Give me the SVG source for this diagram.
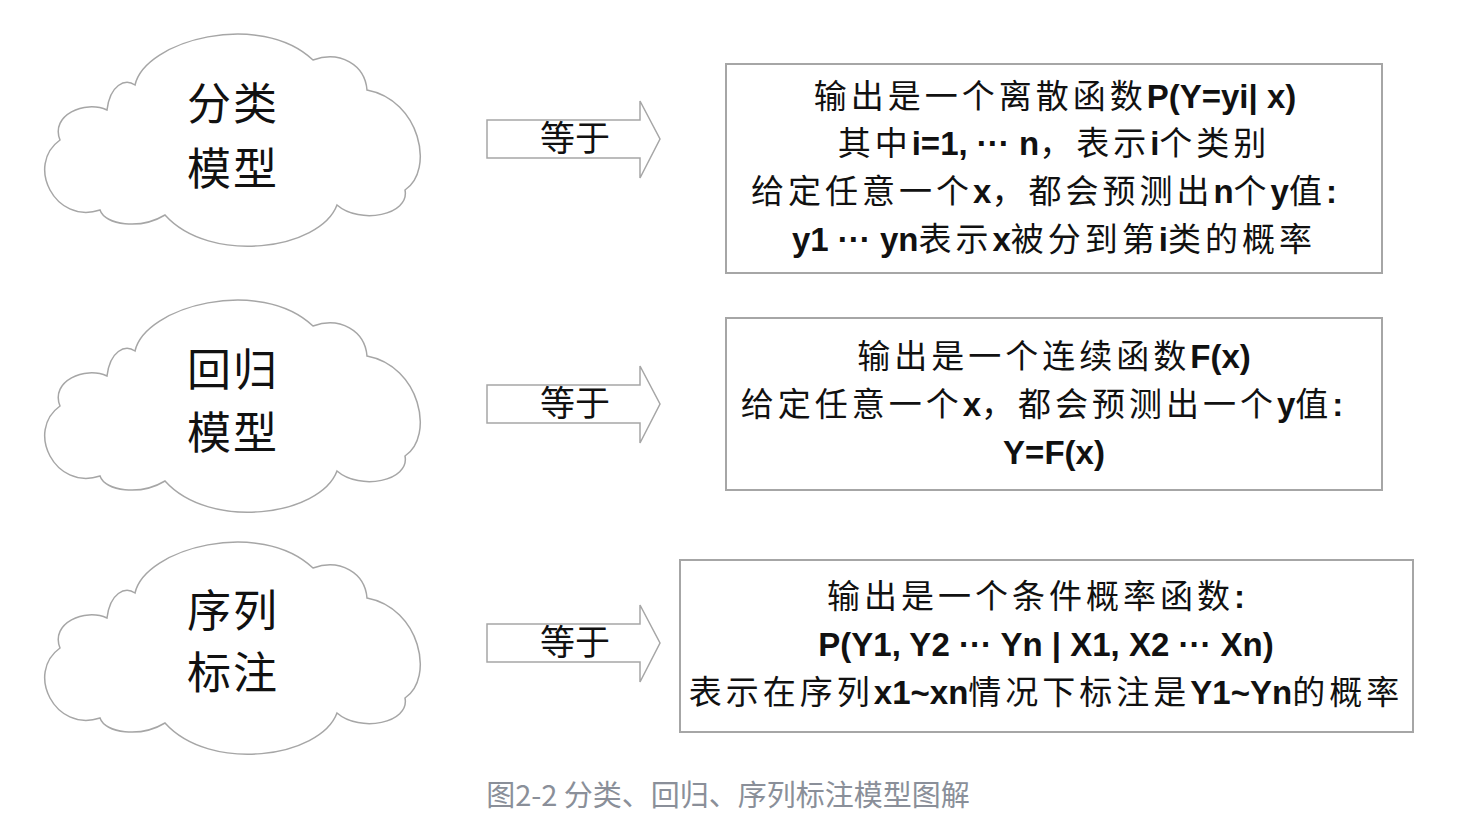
<svg xmlns="http://www.w3.org/2000/svg" width="1478" height="838" viewBox="0 0 1478 838">
<style>
.cloud{fill:#fff;stroke:#a6a6a6;stroke-width:1.5}
.arrow{fill:#fff;stroke:#a6a6a6;stroke-width:1.5}
.box{fill:#fff;stroke:#a6a6a6;stroke-width:2}
.big{font-family:"Noto Sans CJK SC","Noto Sans CJK JP",sans-serif;font-size:44px;letter-spacing:2px;fill:#111;text-anchor:middle}
.eq{font-family:"Noto Sans CJK SC",sans-serif;font-size:35px;fill:#111;text-anchor:middle}
.t{font-family:"Noto Sans CJK SC",sans-serif;font-size:33px;letter-spacing:4px;fill:#111;text-anchor:middle}
.b{font-family:"Liberation Sans","Noto Sans CJK SC",sans-serif;font-weight:bold;font-size:33px;letter-spacing:0}
.cap{font-family:"Noto Sans CJK SC",sans-serif;font-size:29px;fill:#8a8f99;text-anchor:middle}
</style>
<defs>
<path id="cloudShape" d="M107 110 C110 85 125 78 135 85 C145 40 260 10 313 60 C340 50 365 65 367 90 C420 100 435 170 405 190 C410 215 360 225 337 205 C320 250 210 265 165 215 C140 230 105 225 100 210 C55 225 25 165 60 140 C50 115 85 100 107 110 Z"/>
<path id="arrowShape" d="M487 120 H640 V101 L660 139 L640 178 V158 H487 Z"/>
</defs>
<g id="connectors">
<use href="#arrowShape" class="arrow"/>
<text class="eq" x="575" y="151">等于</text>
<use href="#arrowShape" class="arrow" transform="translate(0,265)"/>
<text class="eq" x="575" y="416">等于</text>
<use href="#arrowShape" class="arrow" transform="translate(0,504)"/>
<text class="eq" x="575" y="655">等于</text>
</g>
<g id="node-cls">
<use href="#cloudShape" class="cloud"/>
<text class="big" x="233" y="120">分类</text>
<text class="big" x="233" y="185">模型</text>
</g>
<g id="node-reg">
<use href="#cloudShape" class="cloud" transform="translate(0,266)"/>
<text class="big" x="233" y="386">回归</text>
<text class="big" x="233" y="449">模型</text>
</g>
<g id="node-seq">
<use href="#cloudShape" class="cloud" transform="translate(0,508)"/>
<text class="big" x="233" y="627">序列</text>
<text class="big" x="233" y="689">标注</text>
</g>
<g id="box-cls">
<rect class="box" x="726" y="64" width="656" height="209"/>
<text class="t" x="1055" y="108">输出是一个离散函数<tspan class="b">P(Y=yi| x)</tspan></text>
<text class="t" x="1054" y="155">其中<tspan class="b">i=1, ··· n</tspan>，表示<tspan class="b">i</tspan>个类别</text>
<text class="t" x="1044" y="203">给定任意一个<tspan class="b">x</tspan>，都会预测出<tspan class="b">n</tspan>个<tspan class="b">y</tspan>值<tspan class="b">:</tspan></text>
<text class="t" x="1054" y="251"><tspan class="b">y1 ··· yn</tspan>表示<tspan class="b">x</tspan>被分到第<tspan class="b">i</tspan>类的概率</text>
</g>
<g id="box-reg">
<rect class="box" x="726" y="318" width="656" height="172"/>
<text class="t" x="1054" y="368">输出是一个连续函数<tspan class="b">F(x)</tspan></text>
<text class="t" x="1042" y="416">给定任意一个<tspan class="b">x</tspan>，都会预测出一个<tspan class="b">y</tspan>值<tspan class="b">:</tspan></text>
<text class="t" x="1054" y="464"><tspan class="b">Y=F(x)</tspan></text>
</g>
<g id="box-seq">
<rect class="box" x="680" y="560" width="733" height="172"/>
<text class="t" x="1036" y="608">输出是一个条件概率函数<tspan class="b">:</tspan></text>
<text class="t" x="1046" y="656"><tspan class="b">P(Y1, Y2 ··· Yn | X1, X2 ··· X</tspan><tspan class="b" font-size="22">n</tspan><tspan class="b">)</tspan></text>
<text class="t" x="1046" y="704">表示在序列<tspan class="b">x1~xn</tspan>情况下标注是<tspan class="b">Y1~Yn</tspan>的概率</text>
</g>
<text class="cap" x="728" y="806">图2-2 分类、回归、序列标注模型图解</text>
</svg>
